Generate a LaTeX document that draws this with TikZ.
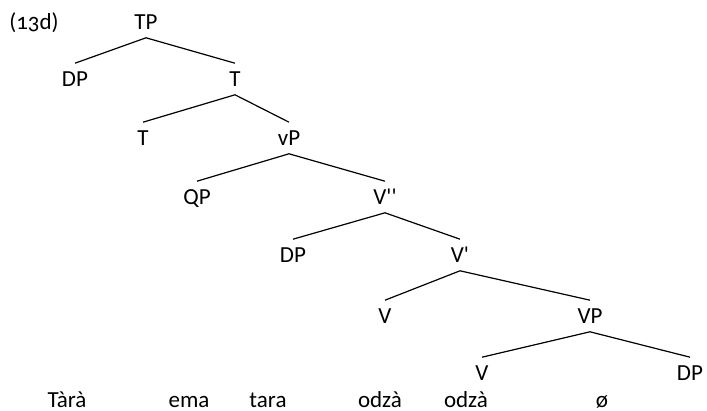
\documentclass[tikz,border=0pt]{standalone}
\usepackage{fontspec}
\setmainfont[Numbers=OldStyle]{Carlito}
\usepackage{tikz}

\begin{document}
\begin{tikzpicture}[x=0.5pt, y=-0.5pt, font=\fontsize{11.5}{13}\selectfont,
  cat/.style={text height=7.4pt, text depth=0pt, inner sep=4pt},
  word/.style={anchor=base, inner sep=0pt},
  branch/.style={line width=0.6pt}]
\useasboundingbox (0,0) rectangle (707,411);

\node (ex) at (34,23) {(13d)};

\node [cat] (tp) at (146,22) {TP};
\node [cat] (dpa) at (75,79) {DP};
\node [cat] (ta) at (235,79) {T};
\node [cat] (tb) at (143,138) {T};
\node [cat] (vp) at (289,138) {vP};
\node [cat] (qp) at (197,197) {QP};
\node [cat] (vbarbar) at (385,197) {V\textquotesingle\textquotesingle};
\node [cat] (dpb) at (293,255) {DP};
\node [cat] (vbar) at (460,255) {V\textquotesingle};
\node [cat] (va) at (385,316) {V};
\node [cat] (bigvp) at (590,316) {VP};
\node [cat] (vb) at (482,373) {V};
\node [cat] (dpc) at (690,373) {DP};

\node [word] (w1) at (67,408) {Tàrà};
\node [word] (w2) at (189,408) {ema};
\node [word] (w3) at (268,408) {tara};
\node [word] (w4) at (380,408) {odzà};
\node [word] (w5) at (466,408) {odzà};
\node [word] (w6) at (602,408) {ø};

\draw [branch] (dpa.north) -- (tp.south) -- (ta.north);
\draw [branch] (tb.north) -- (ta.south) -- (vp.north);
\draw [branch] (qp.north) -- (vp.south) -- (vbarbar.north);
\draw [branch] (dpb.north) -- (vbarbar.south) -- (vbar.north);
\draw [branch] (va.north) -- (vbar.south) -- (bigvp.north);
\draw [branch] (vb.north) -- (bigvp.south) -- (dpc.north);
\end{tikzpicture}
\end{document}
